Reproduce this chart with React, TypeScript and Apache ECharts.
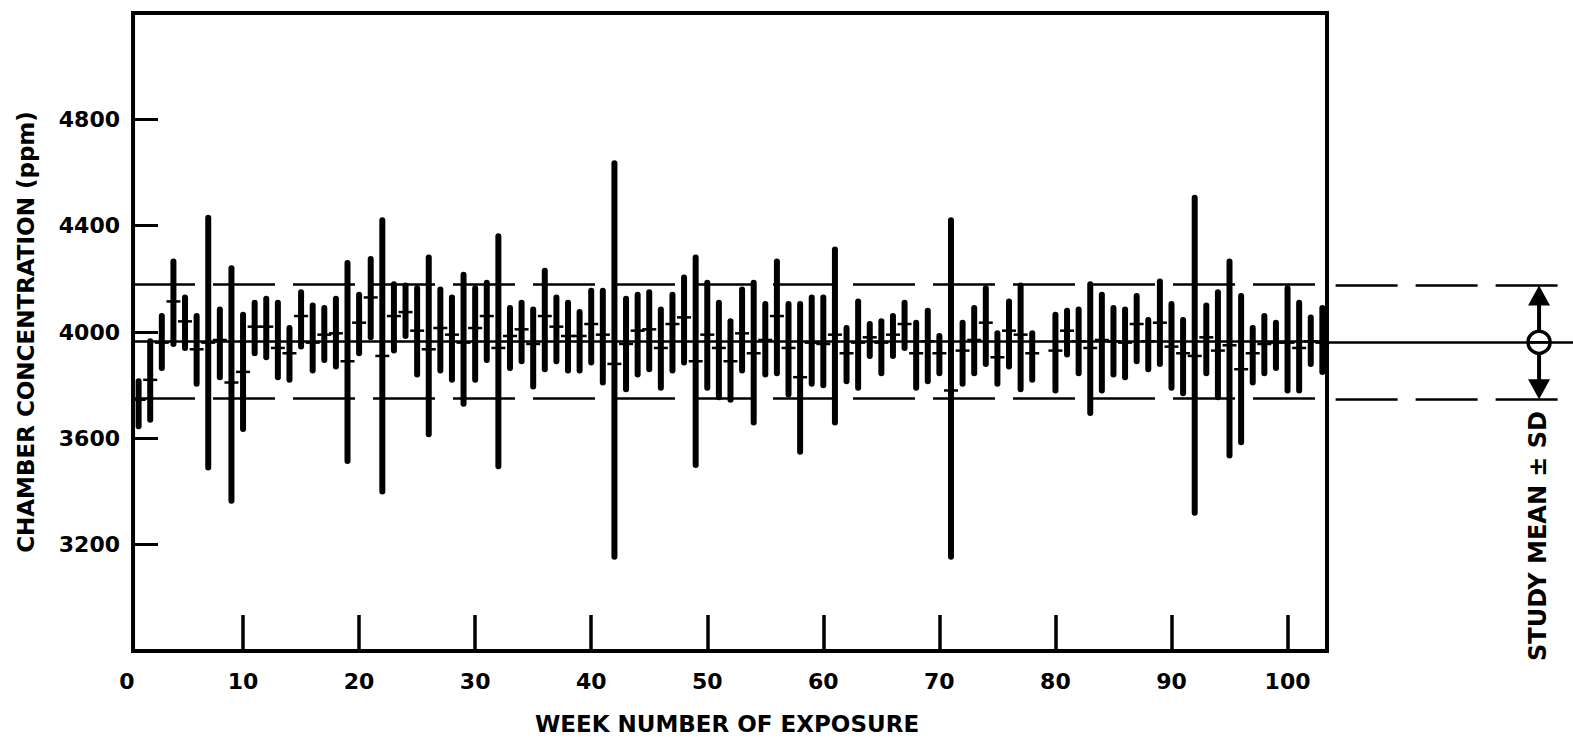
import React, { useEffect, useRef } from "react";
import * as echarts from "echarts";

// ---- data ----
const weeks = [
  1, 2, 3, 4, 5, 6, 7, 8, 9, 10, 11, 12, 13, 14, 15, 16, 17, 18, 19, 20, 21, 22, 23, 24, 25, 26,
  27, 28, 29, 30, 31, 32, 33, 34, 35, 36, 37, 38, 39, 40, 41, 42, 43, 44, 45, 46, 47, 48, 49, 50, 51,
  52, 53, 54, 55, 56, 57, 58, 59, 60, 61, 62, 63, 64, 65, 66, 67, 68, 69, 70, 71, 72, 73, 74, 75, 76,
  77, 78, 80, 81, 82, 83, 84, 85, 86, 87, 88, 89, 90, 91, 92, 93, 94, 95, 96, 97, 98, 99, 100, 101, 102, 103,
];
const weeklyLow = [
  3645, 3670, 3865, 3955, 3940, 3805, 3490, 3830, 3365, 3635, 3920, 3905, 3830, 3820, 3945, 3855, 3895, 3870, 3515, 3920, 3980, 3400, 3930, 3985, 3840, 3615,
  3855, 3820, 3730, 3820, 3895, 3495, 3865, 3890, 3795, 3860, 3890, 3855, 3855, 3885, 3810, 3155, 3785, 3840, 3860, 3790, 3855, 3885, 3500, 3790, 3755,
  3745, 3855, 3660, 3840, 3845, 3765, 3550, 3805, 3800, 3660, 3815, 3790, 3910, 3845, 3910, 3940, 3790, 3815, 3845, 3155, 3805, 3845, 3880, 3805, 3870,
  3785, 3820, 3780, 3915, 3845, 3695, 3780, 3840, 3830, 3890, 3860, 3880, 3790, 3770, 3320, 3845, 3755, 3535, 3585, 3810, 3845, 3865, 3780, 3780, 3880, 3850,
];
const weeklyHigh = [
  3815, 3965, 4060, 4265, 4130, 4060, 4430, 4085, 4240, 4065, 4110, 4125, 4110, 4015, 4150, 4100, 4090, 4125, 4260, 4140, 4275, 4420, 4180, 4175, 4165, 4280,
  4160, 4130, 4215, 4165, 4185, 4360, 4090, 4110, 4085, 4230, 4130, 4110, 4075, 4155, 4155, 4635, 4125, 4140, 4150, 4085, 4140, 4205, 4280, 4185, 4110,
  4040, 4160, 4185, 4105, 4265, 4105, 4105, 4130, 4130, 4310, 4015, 4115, 4030, 4040, 4060, 4110, 4035, 4080, 3985, 4420, 4035, 4090, 4165, 3995, 4115,
  4175, 3995, 4065, 4080, 4085, 4180, 4140, 4090, 4085, 4135, 4045, 4190, 4105, 4045, 4505, 4100, 4150, 4265, 4135, 4015, 4060, 4035, 4165, 4110, 4055, 4090,
];
const weeklyMean = [
  3745, 3820, 3960, 4115, 4040, 3935, 3960, 3970, 3810, 3850, 4020, 4020, 3940, 3920, 4060, 3960, 3990, 3995, 3890, 4035, 4130, 3910, 4060, 4075, 4005, 3935,
  4015, 3990, 3960, 4015, 4060, 3940, 3985, 4010, 3955, 4060, 4020, 3985, 3985, 4030, 3990, 3880, 3955, 4005, 4010, 3940, 4030, 4055, 3890, 3990, 3940,
  3890, 3995, 3920, 3970, 4060, 3940, 3830, 3960, 3955, 3990, 3920, 3960, 3980, 3960, 3990, 4030, 3920, 3965, 3920, 3780, 3930, 3970, 4035, 3905, 4005,
  3990, 3920, 3930, 4005, 3965, 3940, 3970, 3965, 3960, 4030, 3965, 4035, 3945, 3920, 3910, 3980, 3930, 3950, 3860, 3920, 3955, 3960, 3960, 3940, 3965, 3960,
];
const studyMean = 3965;
const studySD = 213;
const xTickValues = [10, 20, 30, 40, 50, 60, 70, 80, 90, 100];
const xLabelValues = [0, 10, 20, 30, 40, 50, 60, 70, 80, 90, 100];
const yMin = 2800;
const yMax = 5200;
const yInterval = 400;
const xMax = 103.4;
const frameXMin = 0.52;

const FONT = "DejaVu Sans";

export default function App() {
  const ref = useRef<HTMLDivElement>(null);
  useEffect(() => {
    document.body.style.margin = "0";
    const chart = echarts.init(ref.current!, undefined, { renderer: "svg" });
    const barData = weeks.map((w, i) => [w, weeklyLow[i], weeklyHigh[i], weeklyMean[i]]);
    const dash = [62, 18];
    const refLine = (x0: number, x1: number, v: number, solid: boolean) => [
      { coord: [x0, v], lineStyle: { type: solid ? "solid" : dash, width: 2.5, color: "#000" } },
      { coord: [x1, v] },
    ];
    const labelStyle = { fontFamily: FONT, fontWeight: "bold", fontSize: 22, color: "#000" };
    chart.setOption({
      animation: false,
      grid: [
        { left: 127, right: 246, top: 13, bottom: 87 },
        { left: 1327, right: 0, top: 13, bottom: 87 },
      ],
      xAxis: [
        {
          type: "value",
          gridIndex: 0,
          min: 0,
          max: xMax,
          interval: 10,
          axisLine: { show: false },
          splitLine: { show: false },
          axisTick: {
            show: true,
            inside: true,
            length: 36,
            customValues: xTickValues,
            lineStyle: { color: "#000", width: 3.5 },
          },
          axisLabel: {
            ...labelStyle,
            margin: 19,
            customValues: xLabelValues,
            formatter: (v: number) => (v % 10 === 0 && v <= 100 ? String(v) : ""),
          },
          name: "WEEK NUMBER OF EXPOSURE",
          nameLocation: "middle",
          nameGap: 61,
          nameTextStyle: { fontFamily: FONT, fontWeight: "bold", fontSize: 23, color: "#000" },
        },
        { type: "value", gridIndex: 1, min: 0, max: 1, show: false },
      ],
      yAxis: [
        {
          type: "value",
          gridIndex: 0,
          min: yMin,
          max: yMax,
          interval: yInterval,
          offset: -6,
          axisLine: { show: false },
          splitLine: { show: false },
          axisTick: { show: true, inside: true, length: 25, lineStyle: { color: "#000", width: 3 } },
          axisLabel: {
            ...labelStyle,
            margin: 13,
            showMinLabel: false,
            showMaxLabel: false,
            formatter: (v: number) => String(v),
          },
          name: "CHAMBER CONCENTRATION (ppm)",
          nameLocation: "middle",
          nameRotate: 90,
          nameGap: 96,
          nameTextStyle: { fontFamily: FONT, fontWeight: "bold", fontSize: 23, color: "#000" },
        },
        { type: "value", gridIndex: 1, min: yMin, max: yMax, show: false },
      ],
      graphic: [
        {
          type: "text",
          x: 1538,
          y: 536,
          rotation: Math.PI / 2,
          style: {
            text: "STUDY MEAN ± SD",
            fontFamily: FONT,
            fontWeight: "bold",
            fontSize: 24,
            fill: "#000",
            align: "center",
            verticalAlign: "middle",
          },
        },
      ],
      series: [
        {
          type: "custom",
          name: "Weekly range",
          xAxisIndex: 0,
          yAxisIndex: 0,
          clip: false,
          data: barData,
          renderItem: (params: any, api: any) => {
            const x = api.value(0);
            const pHi = api.coord([x, api.value(2)]);
            const pLo = api.coord([x, api.value(1)]);
            const pM = api.coord([x, api.value(3)]);
            return {
              type: "group",
              children: [
                {
                  type: "line",
                  shape: { x1: pHi[0], y1: pHi[1], x2: pLo[0], y2: pLo[1] },
                  style: { stroke: "#000", lineWidth: 6, lineCap: "round" },
                },
                {
                  type: "line",
                  shape: { x1: pM[0] - 7, y1: pM[1], x2: pM[0] + 7, y2: pM[1] },
                  style: { stroke: "#000", lineWidth: 2.5 },
                },
              ],
            };
          },
          markArea: {
            silent: true,
            itemStyle: { color: "rgba(0,0,0,0)", borderColor: "#000", borderWidth: 4 },
            data: [[{ coord: [frameXMin, yMin] }, { coord: [xMax, yMax] }]],
          },
          markLine: {
            silent: true,
            symbol: ["none", "none"],
            label: { show: false },
            data: [
              refLine(frameXMin, xMax, studyMean, true),
              refLine(frameXMin, xMax, studyMean + studySD, false),
              refLine(frameXMin, xMax, studyMean - studySD, false),
            ],
          },
        },
        {
          type: "custom",
          name: "Study mean ± SD",
          xAxisIndex: 1,
          yAxisIndex: 1,
          clip: false,
          data: [[0.862, studyMean, studySD]],
          renderItem: (params: any, api: any) => {
            const x = api.value(0);
            const m = api.value(1);
            const sd = api.value(2);
            const c = api.coord([x, m]);
            const top = api.coord([x, m + sd]);
            const bot = api.coord([x, m - sd]);
            const r = 11;
            const ah = 20;
            const aw = 11;
            return {
              type: "group",
              children: [
                { type: "line", shape: { x1: c[0], y1: c[1] - r, x2: c[0], y2: top[1] + ah - 2 }, style: { stroke: "#000", lineWidth: 4 } },
                { type: "line", shape: { x1: c[0], y1: c[1] + r, x2: c[0], y2: bot[1] - ah + 2 }, style: { stroke: "#000", lineWidth: 4 } },
                { type: "polygon", shape: { points: [[c[0], top[1]], [c[0] - aw, top[1] + ah], [c[0] + aw, top[1] + ah]] }, style: { fill: "#000" } },
                { type: "polygon", shape: { points: [[c[0], bot[1]], [c[0] - aw, bot[1] - ah], [c[0] + aw, bot[1] - ah]] }, style: { fill: "#000" } },
                { type: "circle", shape: { cx: c[0], cy: c[1], r }, style: { fill: "#fff", stroke: "#000", lineWidth: 3.5 } },
                { type: "line", shape: { x1: c[0] - r, y1: c[1], x2: c[0] + r, y2: c[1] }, style: { stroke: "#000", lineWidth: 2.5 } },
              ],
            };
          },
          markLine: {
            silent: true,
            symbol: ["none", "none"],
            label: { show: false },
            data: [
              refLine(0, 1, studyMean, true),
              refLine(0.035, 1, studyMean + studySD, false),
              refLine(0.035, 1, studyMean - studySD, false),
            ],
          },
        },
      ],
    });
    return () => chart.dispose();
  }, []);
  return <div ref={ref} style={{ position: "absolute", left: 0, top: 0, width: 1573, height: 740 }} />;
}
